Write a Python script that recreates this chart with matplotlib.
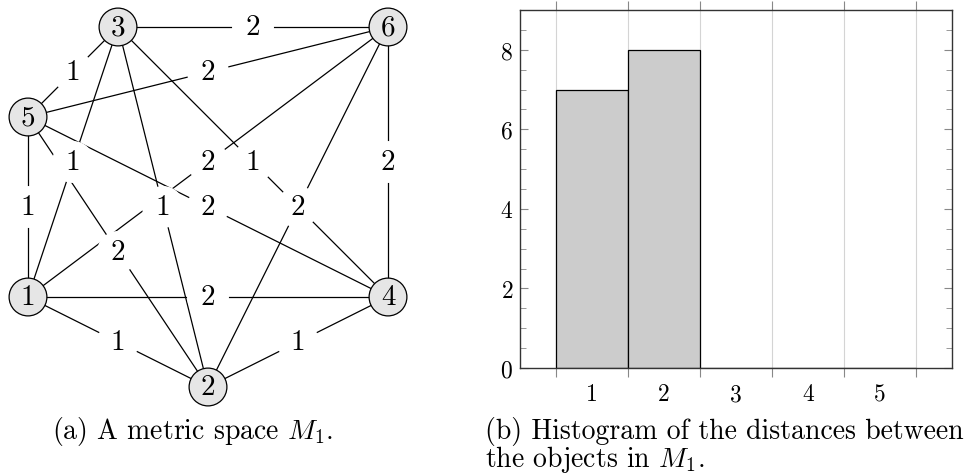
import numpy as np
import matplotlib
matplotlib.use("Agg")
import matplotlib.pyplot as plt
from matplotlib.patches import Circle
from matplotlib.ticker import MultipleLocator

# ======================
# DATA
# ======================
node_ids = [1, 2, 3, 4, 5, 6]
# layout of the nodes on a 5x5 grid (x right, y up)
node_x = [0, 2, 1, 4, 0, 4]
node_y = [1, 0, 4, 1, 3, 4]

edge_src = [3, 3, 3, 3, 3, 5, 5, 5, 5, 6, 6, 6, 1, 1, 4]
edge_dst = [6, 5, 1, 2, 4, 6, 1, 4, 2, 1, 2, 4, 4, 2, 2]
edge_dist = [2, 1, 1, 1, 1, 2, 1, 2, 2, 2, 2, 2, 2, 1, 1]

bin_edges = [0.5, 1.5, 2.5, 3.5, 4.5, 5.5]
bin_labels = [1, 2, 3, 4, 5]

# ======================
# STYLE
# ======================
plt.rcParams["font.family"] = "serif"
plt.rcParams["font.serif"] = ["cmr10"]
plt.rcParams["mathtext.fontset"] = "cm"
plt.rcParams["axes.unicode_minus"] = False
plt.rcParams["axes.formatter.use_mathtext"] = True

W, H = 965, 477
fig = plt.figure(figsize=(W / 100, H / 100), dpi=100)

# ======================
# LEFT: metric space graph
# ======================
unit = 90.0   # pixels per grid step
ox, oy = 28.0, 388.0  # pixel position of grid origin (from top-left)
axg = fig.add_axes([0, 0, 420 / W, 1])
axg.set_xlim(-ox / unit, (420 - ox) / unit)
axg.set_ylim((oy - H) / unit, oy / unit)
axg.axis("off")

pos = {n: (x, y) for n, x, y in zip(node_ids, node_x, node_y)}

for s, d, w in zip(edge_src, edge_dst, edge_dist):
    (x0, y0), (x1, y1) = pos[s], pos[d]
    mx, my = (x0 + x1) / 2, (y0 + y1) / 2
    axg.plot([x0, x1], [y0, y1], color="black", lw=0.9, zorder=1,
             solid_capstyle="butt")
    # white disc behind the label cuts the edge line
    axg.add_patch(Circle((mx, my), 0.233, fc="white", ec="none", zorder=2))
    axg.text(mx, my, str(w), fontsize=21, ha="center", va="center",
             zorder=3)

for n in node_ids:
    x, y = pos[n]
    axg.add_patch(Circle((x, y), 0.21, fc="#e6e6e6", ec="black",
                         lw=0.9, zorder=4))
    axg.text(x, y, str(n), fontsize=21, ha="center", va="center", zorder=5)

fig.text(193 / W, 1 - 439 / H, r"(a) A metric space $M_1$.",
         fontsize=20, ha="center", va="baseline")

# ======================
# RIGHT: histogram
# ======================
ax = fig.add_axes([520 / W, (H - 369) / H, 432 / W, 358 / H])
ax.hist(edge_dist, bins=bin_edges, color="#cccccc", edgecolor="black",
        lw=0.9, zorder=2)
ax.set_xlim(0, 6)
ax.set_ylim(0, 9)

ax.set_xticks(bin_edges)
ax.set_xticks(bin_labels, minor=True)
ax.set_xticklabels([str(v) for v in bin_labels], minor=True)
ax.tick_params(axis="x", which="major", direction="out", length=6.5,
               top=True, bottom=True, labelbottom=False, color="#888888")
ax.tick_params(axis="x", which="minor", length=0, pad=11, labelsize=17)
ax.grid(axis="x", which="major", color="#d4d4d4", lw=0.8, zorder=0)

ax.set_yticks([0, 2, 4, 6, 8])
ax.yaxis.set_minor_locator(MultipleLocator(0.5))
ax.tick_params(axis="y", which="both", direction="in", left=True,
               right=True, color="#888888", labelsize=17, pad=5)
ax.tick_params(axis="y", which="major", length=6)
ax.tick_params(axis="y", which="minor", length=4)

for sp in ax.spines.values():
    sp.set_color("#333333")
    sp.set_linewidth(1.0)

fig.text(485 / W, 1 - 439 / H, "(b) Histogram of the distances between",
         fontsize=20, ha="left", va="baseline")
fig.text(485 / W, 1 - 467 / H, r"the objects in $M_1$.",
         fontsize=20, ha="left", va="baseline")

fig.savefig("out.png", dpi=100)
